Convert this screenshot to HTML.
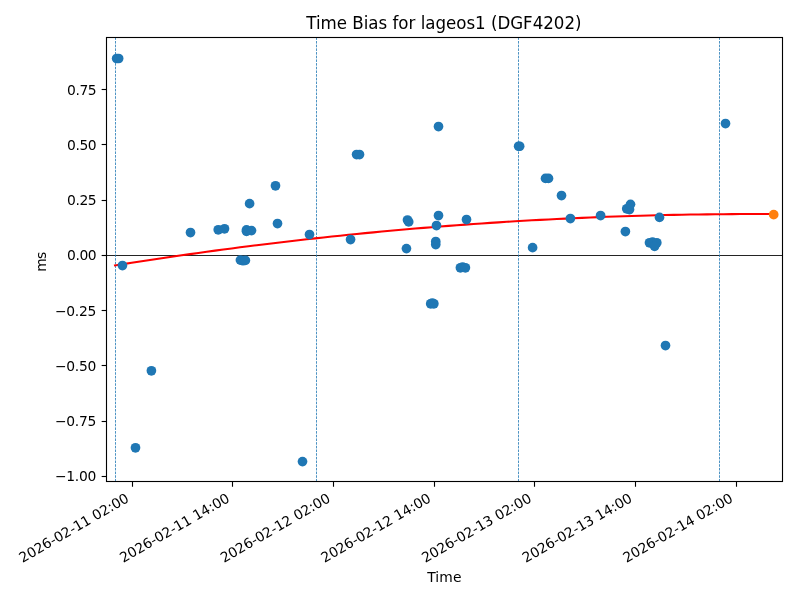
<!DOCTYPE html>
<html><head><meta charset="utf-8"><title>Time Bias for lageos1 (DGF4202)</title>
<style>html,body{margin:0;padding:0;background:#fff;overflow:hidden}svg{display:block}text{font-family:"DejaVu Sans","Liberation Sans",sans-serif;fill:#000}</style></head><body>
<svg width="800" height="600" viewBox="0 0 800 600">
<rect x="0" y="0" width="800" height="600" fill="#ffffff"/>
<defs><clipPath id="ax"><rect x="106.5" y="37.5" width="676.0" height="444.0"/></clipPath></defs>
<g clip-path="url(#ax)">
<line x1="106.5" y1="255.5" x2="782.5" y2="255.5" stroke="#000" stroke-width="0.86"/>
<line x1="115.5" y1="481.5" x2="115.5" y2="37.5" stroke="#1f77b4" stroke-width="0.8" stroke-dasharray="2.57,1.11"/>
<line x1="316.5" y1="481.5" x2="316.5" y2="37.5" stroke="#1f77b4" stroke-width="0.8" stroke-dasharray="2.57,1.11"/>
<line x1="518.5" y1="481.5" x2="518.5" y2="37.5" stroke="#1f77b4" stroke-width="0.8" stroke-dasharray="2.57,1.11"/>
<line x1="719.5" y1="481.5" x2="719.5" y2="37.5" stroke="#1f77b4" stroke-width="0.8" stroke-dasharray="2.57,1.11"/>
<polyline points="115.00,265.42 123.34,264.10 131.68,262.79 140.01,261.49 148.35,260.22 156.69,258.96 165.03,257.72 173.37,256.49 181.70,255.29 190.04,254.10 198.38,252.93 206.72,251.77 215.06,250.64 223.39,249.52 231.73,248.42 240.07,247.33 248.41,246.27 256.75,245.22 265.08,244.18 273.42,243.17 281.76,242.17 290.10,241.19 298.44,240.23 306.77,239.28 315.11,238.35 323.45,237.44 331.79,236.55 340.13,235.68 348.46,234.82 356.80,233.98 365.14,233.15 373.48,232.35 381.82,231.56 390.15,230.79 398.49,230.03 406.83,229.29 415.17,228.57 423.51,227.87 431.84,227.19 440.18,226.52 448.52,225.87 456.86,225.24 465.19,224.62 473.53,224.03 481.87,223.45 490.21,222.88 498.55,222.34 506.88,221.81 515.22,221.30 523.56,220.80 531.90,220.33 540.24,219.87 548.57,219.43 556.91,219.00 565.25,218.60 573.59,218.21 581.93,217.84 590.26,217.48 598.60,217.14 606.94,216.83 615.28,216.52 623.62,216.24 631.95,215.97 640.29,215.72 648.63,215.49 656.97,215.27 665.31,215.07 673.64,214.89 681.98,214.73 690.32,214.58 698.66,214.46 707.00,214.34 715.33,214.25 723.67,214.17 732.01,214.12 740.35,214.07 748.69,214.05 757.02,214.04 765.36,214.05 773.70,214.08" fill="none" stroke="#ff0000" stroke-width="2.08" stroke-linecap="square" stroke-linejoin="round"/>
<circle cx="116.65" cy="58.5" r="4.85" fill="#1f77b4"/>
<circle cx="118.65" cy="58.5" r="4.85" fill="#1f77b4"/>
<circle cx="122.45" cy="265.55" r="4.85" fill="#1f77b4"/>
<circle cx="190.5" cy="232.55" r="4.85" fill="#1f77b4"/>
<circle cx="218.25" cy="229.8" r="4.85" fill="#1f77b4"/>
<circle cx="224.5" cy="228.8" r="4.85" fill="#1f77b4"/>
<circle cx="249.6" cy="203.65" r="4.85" fill="#1f77b4"/>
<circle cx="275.5" cy="185.8" r="4.85" fill="#1f77b4"/>
<circle cx="277.5" cy="223.55" r="4.85" fill="#1f77b4"/>
<circle cx="246.5" cy="229.85000000000002" r="4.85" fill="#1f77b4"/>
<circle cx="246.5" cy="231.35000000000002" r="4.85" fill="#1f77b4"/>
<circle cx="251.5" cy="230.60000000000002" r="4.85" fill="#1f77b4"/>
<circle cx="240.4" cy="260.1" r="4.85" fill="#1f77b4"/>
<circle cx="243.0" cy="260.7" r="4.85" fill="#1f77b4"/>
<circle cx="245.4" cy="260.40000000000003" r="4.85" fill="#1f77b4"/>
<circle cx="151.4" cy="370.8" r="4.85" fill="#1f77b4"/>
<circle cx="135.5" cy="447.8" r="4.85" fill="#1f77b4"/>
<circle cx="302.5" cy="461.6" r="4.85" fill="#1f77b4"/>
<circle cx="309.5" cy="234.55" r="4.85" fill="#1f77b4"/>
<circle cx="350.55" cy="239.55" r="4.85" fill="#1f77b4"/>
<circle cx="356.6" cy="154.55" r="4.85" fill="#1f77b4"/>
<circle cx="359.5" cy="154.55" r="4.85" fill="#1f77b4"/>
<circle cx="438.5" cy="126.55" r="4.85" fill="#1f77b4"/>
<circle cx="407.5" cy="220.0" r="4.85" fill="#1f77b4"/>
<circle cx="408.7" cy="221.9" r="4.85" fill="#1f77b4"/>
<circle cx="438.5" cy="215.55" r="4.85" fill="#1f77b4"/>
<circle cx="436.5" cy="225.55" r="4.85" fill="#1f77b4"/>
<circle cx="466.5" cy="219.55" r="4.85" fill="#1f77b4"/>
<circle cx="435.75" cy="241.55" r="4.85" fill="#1f77b4"/>
<circle cx="435.75" cy="244.55" r="4.85" fill="#1f77b4"/>
<circle cx="406.45" cy="248.60000000000002" r="4.85" fill="#1f77b4"/>
<circle cx="460.4" cy="267.8" r="4.85" fill="#1f77b4"/>
<circle cx="462.6" cy="267.0" r="4.85" fill="#1f77b4"/>
<circle cx="465.4" cy="267.8" r="4.85" fill="#1f77b4"/>
<circle cx="430.7" cy="303.8" r="4.85" fill="#1f77b4"/>
<circle cx="432.3" cy="303.0" r="4.85" fill="#1f77b4"/>
<circle cx="433.85" cy="303.8" r="4.85" fill="#1f77b4"/>
<circle cx="518.65" cy="146.25" r="4.85" fill="#1f77b4"/>
<circle cx="519.65" cy="146.25" r="4.85" fill="#1f77b4"/>
<circle cx="545.5" cy="178.4" r="4.85" fill="#1f77b4"/>
<circle cx="548.5" cy="178.4" r="4.85" fill="#1f77b4"/>
<circle cx="561.5" cy="195.55" r="4.85" fill="#1f77b4"/>
<circle cx="570.4" cy="218.55" r="4.85" fill="#1f77b4"/>
<circle cx="600.6" cy="215.55" r="4.85" fill="#1f77b4"/>
<circle cx="626.75" cy="208.8" r="4.85" fill="#1f77b4"/>
<circle cx="629.5" cy="209.55" r="4.85" fill="#1f77b4"/>
<circle cx="630.5" cy="204.35000000000002" r="4.85" fill="#1f77b4"/>
<circle cx="659.5" cy="217.4" r="4.85" fill="#1f77b4"/>
<circle cx="625.4" cy="231.55" r="4.85" fill="#1f77b4"/>
<circle cx="532.6" cy="247.65" r="4.85" fill="#1f77b4"/>
<circle cx="649.5" cy="242.8" r="4.85" fill="#1f77b4"/>
<circle cx="652.5" cy="242.10000000000002" r="4.85" fill="#1f77b4"/>
<circle cx="656.8" cy="242.8" r="4.85" fill="#1f77b4"/>
<circle cx="654.6" cy="246.3" r="4.85" fill="#1f77b4"/>
<circle cx="725.5" cy="123.55" r="4.85" fill="#1f77b4"/>
<circle cx="665.5" cy="345.55" r="4.85" fill="#1f77b4"/>
<circle cx="773.7" cy="214.65" r="4.85" fill="#ff7f0e"/>
</g>
<rect x="106.5" y="37.5" width="676.0" height="444.0" fill="none" stroke="#000" stroke-width="1.11" stroke-linejoin="miter"/>
<line x1="101.64" y1="89.50" x2="106.5" y2="89.50" stroke="#000" stroke-width="1.11"/>
<text x="96.60" y="95" font-size="13.889" text-anchor="end" textLength="29.6" lengthAdjust="spacing">0.75</text>
<line x1="101.64" y1="144.50" x2="106.5" y2="144.50" stroke="#000" stroke-width="1.11"/>
<text x="96.60" y="150" font-size="13.889" text-anchor="end" textLength="29.6" lengthAdjust="spacing">0.50</text>
<line x1="101.64" y1="200.50" x2="106.5" y2="200.50" stroke="#000" stroke-width="1.11"/>
<text x="96.60" y="205" font-size="13.889" text-anchor="end" textLength="29.6" lengthAdjust="spacing">0.25</text>
<line x1="101.64" y1="255.50" x2="106.5" y2="255.50" stroke="#000" stroke-width="1.11"/>
<text x="96.60" y="260" font-size="13.889" text-anchor="end" textLength="29.6" lengthAdjust="spacing">0.00</text>
<line x1="101.64" y1="310.50" x2="106.5" y2="310.50" stroke="#000" stroke-width="1.11"/>
<text x="96.30" y="316" font-size="13.889" text-anchor="end" textLength="41.4" lengthAdjust="spacing">−0.25</text>
<line x1="101.64" y1="365.50" x2="106.5" y2="365.50" stroke="#000" stroke-width="1.11"/>
<text x="96.30" y="371" font-size="13.889" text-anchor="end" textLength="41.4" lengthAdjust="spacing">−0.50</text>
<line x1="101.64" y1="421.50" x2="106.5" y2="421.50" stroke="#000" stroke-width="1.11"/>
<text x="96.30" y="426" font-size="13.889" text-anchor="end" textLength="41.4" lengthAdjust="spacing">−0.75</text>
<line x1="101.64" y1="476.50" x2="106.5" y2="476.50" stroke="#000" stroke-width="1.11"/>
<text x="96.30" y="481" font-size="13.889" text-anchor="end" textLength="41.4" lengthAdjust="spacing">−1.00</text>
<line x1="132.5" y1="481.5" x2="132.5" y2="486.75" stroke="#000" stroke-width="1.11"/>
<text x="130.00" y="501.00" font-size="13.889" text-anchor="end" textLength="124" lengthAdjust="spacing" transform="rotate(-30 130.00 501.00)">2026-02-11 02:00</text>
<line x1="232.5" y1="481.5" x2="232.5" y2="486.75" stroke="#000" stroke-width="1.11"/>
<text x="230.65" y="501.00" font-size="13.889" text-anchor="end" textLength="124" lengthAdjust="spacing" transform="rotate(-30 230.65 501.00)">2026-02-11 14:00</text>
<line x1="333.5" y1="481.5" x2="333.5" y2="486.75" stroke="#000" stroke-width="1.11"/>
<text x="331.30" y="501.00" font-size="13.889" text-anchor="end" textLength="124" lengthAdjust="spacing" transform="rotate(-30 331.30 501.00)">2026-02-12 02:00</text>
<line x1="434.5" y1="481.5" x2="434.5" y2="486.75" stroke="#000" stroke-width="1.11"/>
<text x="431.95" y="501.00" font-size="13.889" text-anchor="end" textLength="124" lengthAdjust="spacing" transform="rotate(-30 431.95 501.00)">2026-02-12 14:00</text>
<line x1="534.5" y1="481.5" x2="534.5" y2="486.75" stroke="#000" stroke-width="1.11"/>
<text x="532.60" y="501.00" font-size="13.889" text-anchor="end" textLength="124" lengthAdjust="spacing" transform="rotate(-30 532.60 501.00)">2026-02-13 02:00</text>
<line x1="635.5" y1="481.5" x2="635.5" y2="486.75" stroke="#000" stroke-width="1.11"/>
<text x="633.25" y="501.00" font-size="13.889" text-anchor="end" textLength="124" lengthAdjust="spacing" transform="rotate(-30 633.25 501.00)">2026-02-13 14:00</text>
<line x1="736.5" y1="481.5" x2="736.5" y2="486.75" stroke="#000" stroke-width="1.11"/>
<text x="733.90" y="501.00" font-size="13.889" text-anchor="end" textLength="124" lengthAdjust="spacing" transform="rotate(-30 733.90 501.00)">2026-02-14 02:00</text>
<text x="0" y="0" font-size="16.667" text-anchor="middle" textLength="275.2" lengthAdjust="spacing" transform="translate(443.90 28.6) scale(1 1.08)">Time Bias for lageos1 (DGF4202)</text>
<text x="444.35" y="582" font-size="13.889" text-anchor="middle" textLength="34.3" lengthAdjust="spacing">Time</text>
<text x="46.0" y="261.80" font-size="13.889" text-anchor="middle" textLength="20.05" lengthAdjust="spacing" transform="rotate(-90 46.0 261.80)">ms</text>
</svg></body></html>
